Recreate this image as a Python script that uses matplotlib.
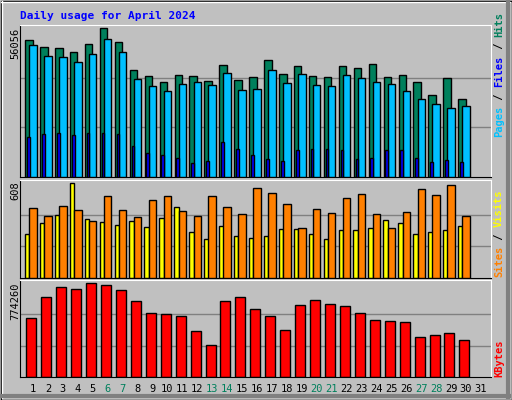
import matplotlib
matplotlib.use("Agg")
import matplotlib.pyplot as plt
from matplotlib.patches import Rectangle
import numpy as np

days = list(range(1, 32))
weekend = [6, 7, 13, 14, 20, 21, 27, 28]
hits = [51363, 48693, 48312, 46787, 49837, 55937, 50600, 40304, 38016, 35728, 38397, 38016, 36110, 42210, 36491,
        37635, 43736, 38778, 41829, 38016, 37635, 41829, 41066, 42592, 37635, 38397, 35728, 30771, 37254, 29246]
files = [49455, 45260, 44879, 43354, 46023, 51743, 46786, 36872, 34203, 32296, 34965, 35728, 34584, 39160, 32677,
         33059, 40304, 35347, 38778, 34584, 34203, 38397, 37254, 35728, 34965, 32296, 29246, 27339, 25814, 26577]
pages = [14985, 16129, 16510, 15748, 16510, 16510, 16129, 11553, 8884, 8122, 6978, 5071, 5834, 13079, 10410,
         8122, 6597, 5834, 10028, 10410, 10410, 10028, 6597, 6978, 10028, 10028, 6978, 5453, 6215, 5453]
visits = [284, 350, 403, 608, 377, 357, 337, 363, 324, 383, 456, 297, 251, 330, 271,
          258, 271, 311, 311, 284, 251, 304, 304, 317, 370, 350, 278, 291, 304, 330]
sites = [449, 397, 463, 436, 364, 522, 436, 390, 496, 522, 430, 397, 522, 456, 410,
         575, 542, 476, 317, 443, 416, 509, 535, 410, 317, 423, 568, 529, 595, 397]
kbytes = [484956, 655116, 740196, 723180, 774260, 757212, 714672, 621084, 527496, 518988, 501972, 374352, 263748,
          621084, 655116, 561528, 501972, 382860, 595560, 629592, 604068, 587052, 527496, 467940, 459432, 450924,
          331812, 348828, 365844, 306288]

W, H = 512, 400
BG = "#C0C0C0"
fig = plt.figure(figsize=(W/100, H/100), dpi=100, facecolor=BG)
mono = "DejaVu Sans Mono"

# frame bevel
fa = fig.add_axes([0, 0, 1, 1]); fa.set_xlim(0, W); fa.set_ylim(H, 0); fa.axis("off")
fa.add_patch(Rectangle((0.5, 0.5), W-1, H-1, fill=False, ec="black", lw=1))
fa.plot([1, W-2], [1.5, 1.5], color="white", lw=1)
fa.plot([1.5, 1.5], [1, H-2], color="white", lw=1)
fa.plot([W-4, W-4], [2, H-3], color="#808080", lw=3)
fa.plot([2, W-3], [H-4, H-4], color="#808080", lw=3)

def pax(x0, y0, x1, y1):
    ax = fig.add_axes([x0/W, 1-y1/H, (x1-x0)/W, (y1-y0)/H])
    ax.set_facecolor(BG)
    for s in ax.spines.values():
        s.set_color("black")
    ax.spines["top"].set_color("white"); ax.spines["right"].set_color("white")
    ax.set_xlim(0.13, 31.67)
    ax.set_xticks([]); ax.set_yticks([])
    return ax

n = len(hits)
x = np.arange(1, n+1)
ec = dict(edgecolor="black", linewidth=1)

ax1 = pax(20, 25, 491, 177)
ax1.set_ylim(0, max(hits)*1.02)
for f in (1/3, 2/3):
    ax1.axhline(max(hits)*f, color="#808080", lw=1, zorder=0)
ax1.bar(x-0.27, hits, width=0.5, color="#00805C", zorder=2, **ec)
ax1.bar(x, files, width=0.5, color="#00C0FF", zorder=3, **ec)
ax1.bar(x-0.31, pages, width=0.18, color="#0000FF", zorder=4, **ec)

ax2 = pax(20, 180, 491, 278)
ax2.set_ylim(0, max(visits)*1.03)
for f in (1/3, 2/3):
    ax2.axhline(max(visits)*f, color="#808080", lw=1, zorder=0)
ax2.bar(x-0.39, visits, width=0.3, color="#FFFF00", zorder=2, **ec)
ax2.bar(x, sites, width=0.5, color="#FF8000", zorder=3, **ec)

ax3 = pax(20, 280, 491, 377)
ax3.set_ylim(0, max(kbytes)*1.03)
for f in (1/3, 2/3):
    ax3.axhline(max(kbytes)*f, color="#808080", lw=1, zorder=0)
ax3.bar(x-0.11, kbytes, width=0.67, color="#FF0000", zorder=2, **ec)

# day labels
for d in days:
    px = 33 + (d-1)*14.93
    fa.text(px, 389, str(d), ha="center", va="center", fontsize=7.5, family=mono,
            color="#00805C" if d in weekend else "black")

fa.text(20, 16, "Daily usage for April 2024", ha="left", va="center", fontsize=8, family=mono,
        fontweight="bold", color="#0000FF")

fa.text(15, 28, "56056", rotation=90, ha="center", va="top", fontsize=7.5, family=mono)
fa.text(15, 181, "608", rotation=90, ha="center", va="top", fontsize=7.5, family=mono)
fa.text(15, 283, "774260", rotation=90, ha="center", va="top", fontsize=7.5, family=mono)

def stack(xp, ybottom, parts, fs=7.5):
    cw = 0.602*fs*100/72
    y = ybottom
    for t, c in parts:
        fa.text(xp, y, t, rotation=90, ha="center", va="bottom", fontsize=fs, family=mono,
                color=c, fontweight="bold")
        y -= cw*len(t)

stack(499, 137, [("Pages", "#00C0FF"), (" / ", "black"), ("Files", "#0000FF"), (" / ", "black"), ("Hits", "#00805C")])
stack(499, 277, [("Sites", "#FF8000"), (" / ", "black"), ("Visits", "#FFFF00")])
stack(499, 377, [("KBytes", "#FF0000")])

fig.savefig("out.png", dpi=100, facecolor=BG)
